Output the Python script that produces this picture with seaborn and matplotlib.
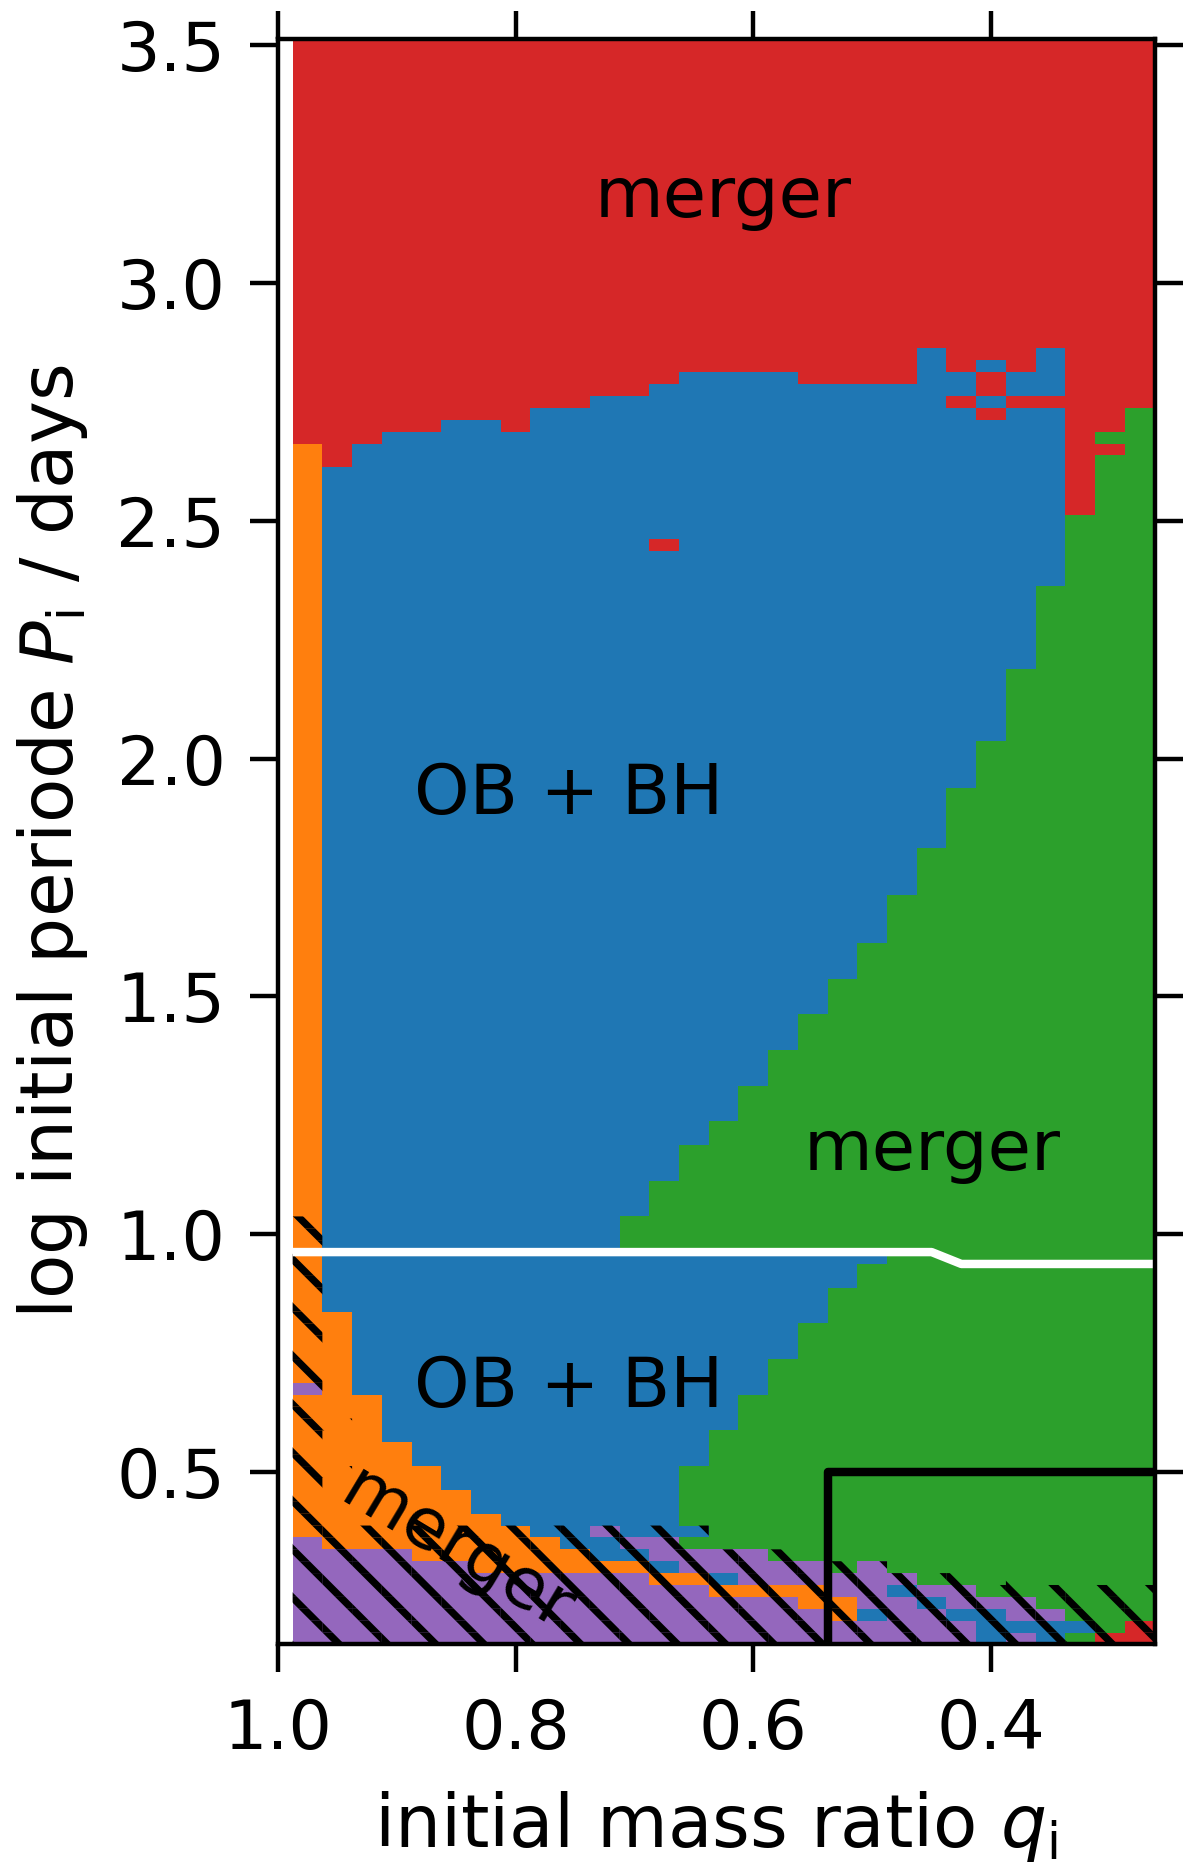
import numpy as np
import matplotlib
matplotlib.use("Agg")
import matplotlib.pyplot as plt
from matplotlib.colors import ListedColormap
import seaborn as sns

# model grid: columns in q (0.975 ... 0.275), rows in log P (0.15 ... 3.50)
q_first, q_step, n_q = 0.975, 0.025, 29
logp_first, logp_step, n_logp = 0.15, 0.025, 135
logp_split = 0.9625          # upper / lower model sets (white line)

# outcome classes, letters used in the tables below
kinds = ["P", "O", "B", "G", "R"]   # purple, orange, OB+BH, merger (green), merger (red)

# upper edge (log P) of the non-red region in each column
nonred_top = [2.6625, 2.6125, 2.6625, 2.6875, 2.6875, 2.7125, 2.7125, 2.6875,
              2.7375, 2.7375, 2.7625, 2.7625, 2.7875, 2.8125, 2.8125, 2.8125,
              2.8125, 2.7875, 2.7875, 2.7875, 2.7875, 2.8625, 2.7375, 2.7125,
              2.7375, 2.7375, 2.5125, 2.6375, 2.7375]

# upper edge of the orange column/band on the left
orange_top = [2.6625, 0.8375, 0.6625, 0.5625, 0.5125, 0.4625] + [None] * 23

# upper edge of the green region above the split
green_top = [None] * 11 + [1.0375, 1.1125, 1.1875, 1.2375, 1.3125, 1.3875,
                           1.4625, 1.5375, 1.6125, 1.7125, 1.8125, 1.9375,
                           2.0375, 2.1875, 2.3625, 2.5125, 2.6375, 2.7375]

# upper edge of the green region below the split
lower_green_top = [None] * 13 + [0.5125, 0.5875, 0.6625, 0.7375, 0.8125,
                                 0.8875, 0.9375] + [0.9625] * 9

# lowest 12 rows, top row first, one letter per column
bottom_rows = [
    "OOOOOOBBBBBBBGGGGGGGGGGGGGGGG",
    "OOOOOOOBBBBBBGGGGGGGGGGGGGGGG",
    "OOOOOOOOBBPBBBGGGGGGGGGGGGGGG",
    "POOOOOOOOBBPPGGGGGGGGGGGGGGGG",
    "PPPPOOOOOOBBPPPPGGGGGGGGGGGGG",
    "PPPPPPOOOOOOBPPPPPGPGGGGGGGGG",
    "PPPPPPPPPPPPOOBPPPPPPGGGGGGGG",
    "PPPPPPPPPPPPPPOOOOPPBPPGGGGGG",
    "PPPPPPPPPPPPPPPPPOOPPBPPPGGGG",
    "PPPPPPPPPPPPPPPPPPOBPPBBPPGGG",
    "PPPPPPPPPPPPPPPPPPPPPPPBBBBGR",
    "PPPPPPPPPPPPPPPPPPPPPPPBPBGRR",
]

# single cells that differ from their surroundings
cell_q = [0.975, 0.675, 0.425, 0.425, 0.425, 0.4, 0.4, 0.4, 0.4, 0.4,
          0.375, 0.375, 0.375, 0.35, 0.35, 0.35, 0.35, 0.35, 0.3, 0.3]
cell_logp = [0.675, 2.45, 2.75, 2.775, 2.8, 2.725, 2.75, 2.775, 2.8, 2.825,
             2.75, 2.775, 2.8, 2.75, 2.775, 2.8, 2.825, 2.85, 2.65, 2.675]
cell_kind = ["P", "R", "R", "B", "B", "R", "B", "R", "R", "B",
             "R", "B", "B", "R", "B", "B", "B", "B", "R", "G"]

# hatched region: upper edge per column plus two loose cells
hatch_top = [1.0375] + [0.3875] * 13 + [0.3375] * 3 + [0.3125] * 3 + \
            [0.2875] * 3 + [0.2625, 0.2875] + [0.2625] * 4
hatch_q = [0.95, 0.95]
hatch_logp = [0.5, 0.6]

# white separation line and black box
white_q = [0.9875, 0.45, 0.425, 0.2625]
white_logp = [0.9625, 0.9625, 0.9375, 0.9375]
box_q = [0.5375, 0.5375, 0.2625]
box_logp = [0.1375, 0.5, 0.5]

# region labels
labels = ["merger", "OB + BH", "merger", "OB + BH", "merger"]
label_q = [0.625, 0.755, 0.4495, 0.755, 0.849]
label_logp = [3.18, 1.924, 1.176, 0.677, 0.336]
label_rot = [0, 0, 0, 0, -31]

# ---------------------------------------------------------------
q_edges = q_first + q_step / 2 - q_step * np.arange(n_q + 1)
logp_edges = logp_first - logp_step / 2 + logp_step * np.arange(n_logp + 1)


def row_of(edge):
    return int(round((edge - logp_edges[0]) / logp_step))


def col_of(q):
    return int(round((q_first - q) / q_step))


grid = np.full((n_logp, n_q), "R", dtype="<U1")
split = row_of(logp_split)
for c in range(n_q):
    grid[:row_of(nonred_top[c]), c] = "B"
    if orange_top[c] is not None:
        grid[:row_of(orange_top[c]), c] = "O"
    if green_top[c] is not None:
        grid[split:row_of(green_top[c]), c] = "G"
    if lower_green_top[c] is not None:
        grid[:row_of(lower_green_top[c]), c] = "G"
    for r in range(len(bottom_rows)):
        grid[r, c] = bottom_rows[len(bottom_rows) - 1 - r][c]

for q, lp, k in zip(cell_q, cell_logp, cell_kind):
    grid[row_of(lp + logp_step / 2) - 1, col_of(q)] = k

codes = np.vectorize(kinds.index)(grid)

hatched = np.zeros((n_logp, n_q), dtype=bool)
for c in range(n_q):
    hatched[:row_of(hatch_top[c]), c] = True
for q, lp in zip(hatch_q, hatch_logp):
    hatched[row_of(lp + logp_step / 2) - 1, col_of(q)] = True

# ---------------------------------------------------------------
sns.set_theme(style="ticks", rc={
    "axes.edgecolor": "black", "axes.labelcolor": "black",
    "text.color": "black", "xtick.color": "black", "ytick.color": "black",
    "axes.linewidth": 1.1, "hatch.color": "black", "hatch.linewidth": 1.8,
})
plt.rcParams["font.family"] = ["DejaVu Sans"]

pal = sns.color_palette("tab10")
cmap = ListedColormap([pal[4], pal[1], pal[0], pal[2], pal[3]])

dpi = 290
fig = plt.figure(figsize=(1200 / dpi, 1874 / dpi), dpi=dpi)
ax = fig.add_axes([0.2315, 0.1225, 0.7306, 0.8565])

ax.pcolormesh(q_edges, logp_edges, codes, cmap=cmap, vmin=-0.5,
              vmax=len(kinds) - 0.5, shading="flat")

hatch_vals = np.ma.masked_where(~hatched, np.ones(hatched.shape))
ax.pcolor(q_edges, logp_edges, hatch_vals, facecolor="none",
          edgecolor="black", linewidth=0, hatch="\\\\")

ax.plot(white_q, white_logp, color="white", lw=2.1, solid_capstyle="butt")
ax.plot(box_q, box_logp, color="black", lw=2.1, solid_capstyle="projecting")

for txt, q, lp, rot in zip(labels, label_q, label_logp, label_rot):
    ax.text(q, lp, txt, fontsize=17.5, ha="center", va="center",
            rotation=rot, rotation_mode="anchor", zorder=5)

ax.set_xlim(1.0, q_edges[-1])
ax.set_ylim(logp_edges[0], logp_edges[-1])
ax.set_xticks([1.0, 0.8, 0.6, 0.4])
ax.set_yticks([0.5, 1.0, 1.5, 2.0, 2.5, 3.0, 3.5])
ax.tick_params(direction="out", length=7, width=1.1, top=True, right=True,
               labelsize=17, pad=6)
ax.set_xlabel(r"initial mass ratio $q_\mathrm{i}$", fontsize=18, labelpad=6.5)
ax.set_ylabel(r"log initial periode $P_\mathrm{i}$ / days", fontsize=18,
              labelpad=6.5)

fig.savefig("out.png", dpi=dpi)
